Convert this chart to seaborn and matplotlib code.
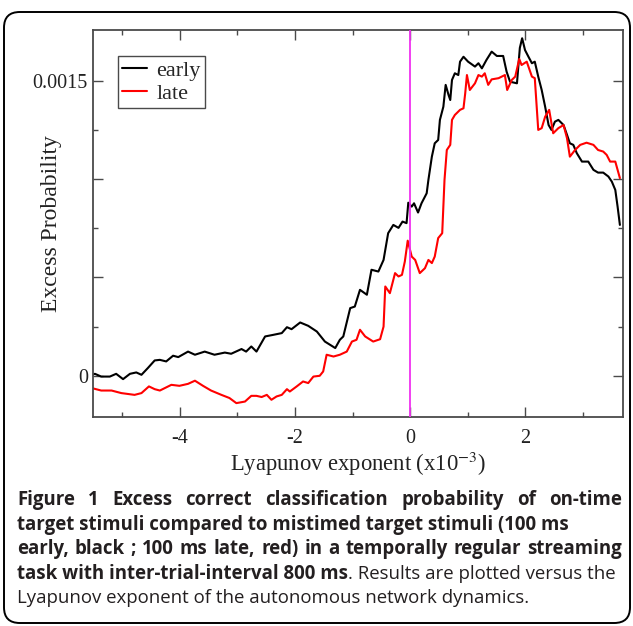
import numpy as np
import pandas as pd
import matplotlib
matplotlib.use("Agg")
import matplotlib.pyplot as plt
import seaborn as sns
from matplotlib.patches import FancyBboxPatch
from matplotlib.ticker import FixedLocator

# ---------------- data ----------------
early_x = [-5.54, -5.48, -5.37, -5.22, -5.11, -4.99, -4.87, -4.76, -4.67, -4.56,
           -4.44, -4.35, -4.24, -4.12, -4.03, -3.86, -3.74, -3.57, -3.40, -3.22,
           -3.11, -2.93, -2.85, -2.76, -2.67, -2.52, -2.38, -2.23, -2.14, -2.06,
           -1.91, -1.77, -1.62, -1.48, -1.30, -1.22, -1.16, -1.04, -0.96, -0.87,
           -0.75, -0.67, -0.55, -0.46, -0.38, -0.29, -0.20, -0.13, -0.06, -0.03,
           0.03, 0.07, 0.14, 0.20, 0.29, 0.32, 0.38, 0.43, 0.49, 0.52,
           0.58, 0.62, 0.67, 0.70, 0.73, 0.78, 0.84, 0.87, 0.93, 1.01,
           1.13, 1.19, 1.25, 1.33, 1.42, 1.51, 1.62, 1.68, 1.74, 1.86,
           1.91, 1.95, 2.00, 2.06, 2.12, 2.17, 2.23, 2.29, 2.35, 2.41,
           2.46, 2.52, 2.58, 2.67, 2.73, 2.78, 2.84, 2.90, 2.99, 3.10,
           3.19, 3.27, 3.36, 3.45, 3.51, 3.57, 3.61, 3.65]
early_y = [0.05e-4, 0.10e-4, -0.04e-4, -0.04e-4, 0.10e-4, -0.17e-4, 0.10e-4, 0.17e-4, 0.05e-4, 0.39e-4,
           0.78e-4, 0.81e-4, 0.73e-4, 1.02e-4, 0.95e-4, 1.23e-4, 1.07e-4, 1.23e-4, 1.07e-4, 1.18e-4,
           1.12e-4, 1.36e-4, 1.23e-4, 1.49e-4, 1.23e-4, 2.00e-4, 2.08e-4, 2.17e-4, 2.47e-4, 2.37e-4,
           2.71e-4, 2.54e-4, 2.25e-4, 1.74e-4, 1.41e-4, 1.83e-4, 2.00e-4, 3.44e-4, 3.52e-4, 4.37e-4,
           4.12e-4, 5.39e-4, 5.30e-4, 5.89e-4, 7.25e-4, 7.67e-4, 7.52e-4, 7.84e-4, 7.76e-4, 8.80e-4,
           8.60e-4, 8.77e-4, 8.30e-4, 8.77e-4, 9.28e-4, 9.96e-4, 11.14e-4, 11.82e-4, 11.99e-4, 13.01e-4,
           13.68e-4, 14.79e-4, 14.28e-4, 14.02e-4, 15.04e-4, 15.38e-4, 15.29e-4, 15.97e-4, 16.22e-4, 15.97e-4,
           15.72e-4, 15.89e-4, 15.63e-4, 16.06e-4, 16.48e-4, 16.26e-4, 16.26e-4, 15.46e-4, 14.95e-4, 14.87e-4,
           16.67e-4, 17.16e-4, 16.56e-4, 16.22e-4, 15.89e-4, 15.97e-4, 15.21e-4, 14.53e-4, 13.68e-4, 12.75e-4,
           12.50e-4, 12.92e-4, 13.01e-4, 12.75e-4, 12.25e-4, 11.82e-4, 11.74e-4, 11.32e-4, 10.89e-4, 10.89e-4,
           10.47e-4, 10.33e-4, 10.33e-4, 10.13e-4, 9.87e-4, 9.45e-4, 8.60e-4, 7.67e-4]

late_x = [-5.54, -5.37, -5.19, -5.02, -4.79, -4.67, -4.54, -4.44, -4.35, -4.15,
          -4.01, -3.86, -3.74, -3.60, -3.46, -3.28, -3.14, -3.02, -2.87, -2.76,
          -2.67, -2.58, -2.49, -2.41, -2.32, -2.23, -2.14, -2.09, -1.97, -1.86,
          -1.77, -1.68, -1.57, -1.51, -1.45, -1.33, -1.22, -1.10, -1.01, -0.93,
          -0.87, -0.78, -0.64, -0.52, -0.46, -0.43, -0.35, -0.26, -0.20, -0.14,
          -0.09, -0.04, 0.03, 0.09, 0.17, 0.26, 0.32, 0.38, 0.43, 0.49,
          0.56, 0.60, 0.64, 0.70, 0.73, 0.78, 0.87, 0.93, 0.96, 0.99,
          1.04, 1.13, 1.19, 1.25, 1.30, 1.36, 1.42, 1.54, 1.65, 1.69,
          1.77, 1.83, 1.90, 1.94, 2.03, 2.12, 2.17, 2.23, 2.29, 2.35,
          2.42, 2.49, 2.58, 2.67, 2.73, 2.78, 2.87, 2.96, 3.07, 3.19,
          3.27, 3.36, 3.42, 3.48, 3.57, 3.65]
late_y = [-0.62e-4, -0.75e-4, -0.75e-4, -0.88e-4, -0.97e-4, -0.88e-4, -0.54e-4, -0.68e-4, -0.75e-4, -0.46e-4,
          -0.51e-4, -0.41e-4, -0.25e-4, -0.51e-4, -0.75e-4, -0.97e-4, -1.13e-4, -1.39e-4, -1.31e-4, -1.02e-4,
          -1.02e-4, -1.08e-4, -0.97e-4, -1.22e-4, -1.05e-4, -0.97e-4, -0.68e-4, -0.80e-4, -0.54e-4, -0.29e-4,
          -0.37e-4, -0.04e-4, 0.00e-4, 0.22e-4, 1.07e-4, 0.98e-4, 1.07e-4, 1.23e-4, 1.74e-4, 1.83e-4,
          2.34e-4, 2.00e-4, 1.74e-4, 1.86e-4, 2.50e-4, 4.54e-4, 4.20e-4, 5.22e-4, 5.05e-4, 5.13e-4,
          5.81e-4, 6.87e-4, 6.06e-4, 5.89e-4, 5.22e-4, 5.47e-4, 5.89e-4, 5.73e-4, 6.06e-4, 7.00e-4,
          7.25e-4, 9.96e-4, 11.48e-4, 11.74e-4, 13.01e-4, 13.26e-4, 13.52e-4, 13.60e-4, 14.36e-4, 15.29e-4,
          14.53e-4, 14.87e-4, 15.29e-4, 15.21e-4, 15.38e-4, 14.79e-4, 15.07e-4, 15.13e-4, 15.29e-4, 14.53e-4,
          15.04e-4, 15.21e-4, 16.11e-4, 15.80e-4, 15.97e-4, 15.21e-4, 15.13e-4, 12.50e-4, 12.59e-4, 13.17e-4,
          13.52e-4, 12.33e-4, 12.59e-4, 12.75e-4, 12.08e-4, 11.14e-4, 11.48e-4, 11.74e-4, 11.85e-4, 11.74e-4,
          11.48e-4, 11.40e-4, 11.23e-4, 10.89e-4, 10.89e-4, 10.05e-4]

series_names = ["early", "late"]
series_colors = ["black", "red"]
x_major_ticks = [-4, -2, 0, 2]
x_minor_ticks = [-5, -3, -1, 1, 3]
x_tick_labels = ["-4", "-2", "0", "2"]
y_major_ticks = [0.0, 0.0005, 0.0010, 0.0015]
y_minor_ticks = [0.00025, 0.00075, 0.00125]
y_tick_labels = ["0", "", "", "0.0015"]
x_label = "Lyapunov exponent (x10$^{-3}$)"
y_label = "Excess Probability"
# caption: (text, bold?) segments per line, and whether the line is justified
caption_lines = [
    ([("Figure 1 Excess correct classification probability of on-time", True)], True),
    ([("target stimuli compared to mistimed target stimuli (100 ms", True)], False),
    ([("early, black ; 100 ms late, red) in a temporally regular streaming", True)], True),
    ([("task with inter-trial-interval 800 ms", True),
      (". Results are plotted versus the", False)], False),
    ([("Lyapunov exponent of the autonomous network dynamics.", False)], False),
]
caption_size = 13.4

# ---------------- style ----------------
sns.set_theme(style="ticks")
plt.rcParams["font.family"] = ["Liberation Serif", "DejaVu Serif"]
plt.rcParams["mathtext.fontset"] = "stix"

W, H = 633, 626
fig = plt.figure(figsize=(W / 100, H / 100), dpi=100)
fig.patch.set_facecolor("white")

left, right, top, bottom = 92.7, 623.0, 30.0, 416.5
ax = fig.add_axes([left / W, 1 - bottom / H, (right - left) / W, (bottom - top) / H])
ax.set_facecolor("white")

df = pd.concat([
    pd.DataFrame({"x": early_x, "y": early_y, "series": series_names[0]}),
    pd.DataFrame({"x": late_x, "y": late_y, "series": series_names[1]}),
])
sns.lineplot(data=df, x="x", y="y", hue="series",
             palette=dict(zip(series_names, series_colors)),
             estimator=None, sort=False, linewidth=1.5, ax=ax)

ax.axvline(0, color="#f030f0", lw=1.3, zorder=5)

ax.set_xlim(-5.518, 3.704)
ax.set_ylim(-0.000207, 0.001758)

ax.xaxis.set_major_locator(FixedLocator(x_major_ticks))
ax.xaxis.set_minor_locator(FixedLocator(x_minor_ticks))
ax.set_xticklabels(x_tick_labels)
ax.yaxis.set_major_locator(FixedLocator(y_major_ticks))
ax.yaxis.set_minor_locator(FixedLocator(y_minor_ticks))
ax.set_yticklabels(y_tick_labels)

spine_c = "#4a4a4a"
for s in ax.spines.values():
    s.set_visible(True)
    s.set_color(spine_c)
    s.set_linewidth(1.3)
ax.tick_params(which="both", direction="in", top=True, right=True,
               color=spine_c, width=1.0, labelsize=14.5, labelcolor="#222222")
ax.tick_params(which="major", length=7.5)
ax.tick_params(which="minor", length=3.8)
ax.tick_params(axis="x", which="major", pad=9)
ax.tick_params(axis="y", which="major", pad=3.5)

ax.set_xlabel(x_label, fontsize=16.3, color="#222222", labelpad=1)
ax.set_ylabel(y_label, fontsize=17, color="#222222")
ax.yaxis.set_label_coords((62 - left) / (right - left), 0.5)

leg = ax.legend(loc="upper left", bbox_to_anchor=(0.047, 0.933), frameon=True,
                fancybox=False, edgecolor=spine_c, framealpha=1, fontsize=16,
                handlelength=1.1, borderpad=0.2, labelspacing=0.1,
                handletextpad=0.45, borderaxespad=0)
leg.get_frame().set_linewidth(1.0)
for ln in leg.get_lines():
    ln.set_linewidth(1.5)

# ---------------- border & caption ----------------
border = FancyBboxPatch((4 / W, 1 - 623 / H), (630 - 4) / W, (623 - 12) / H,
                        boxstyle="round,pad=0,rounding_size=0.025",
                        transform=fig.transFigure, fill=False, ec="black", lw=1.4,
                        clip_on=False)
fig.patches.append(border)

cap_font = ["Open Sans", "DejaVu Sans"]
cap_x0, cap_x1 = 17.0, 622.0
line_y = [500, 525, 549, 574, 598]
cap_color = "#231f20"
r = fig.canvas.get_renderer()


def text_width(s, bold, size):
    t = fig.text(0, 0, s, family=cap_font, fontsize=size,
                 fontweight="bold" if bold else "normal")
    w = t.get_window_extent(renderer=r).width
    t.remove()
    return w


for i, (segs, justify) in enumerate(caption_lines):
    yy = 1 - line_y[i] / H
    size = caption_size
    if justify:
        text, bold = segs[0]
        words = text.split(" ")
        widths = [text_width(w, bold, size) for w in words]
        gap = (cap_x1 - cap_x0 - sum(widths)) / (len(words) - 1)
        x = cap_x0
        for w, wd in zip(words, widths):
            fig.text(x / W, yy, w, family=cap_font, fontsize=size,
                     fontweight="bold" if bold else "normal", color=cap_color,
                     va="center", ha="left")
            x += wd + gap
    else:
        x = cap_x0
        for text, bold in segs:
            t = fig.text(x / W, yy, text, family=cap_font, fontsize=size,
                         fontweight="bold" if bold else "normal", color=cap_color,
                         va="center", ha="left")
            x += t.get_window_extent(renderer=r).width

fig.savefig("out.png", dpi=100, facecolor="white")
